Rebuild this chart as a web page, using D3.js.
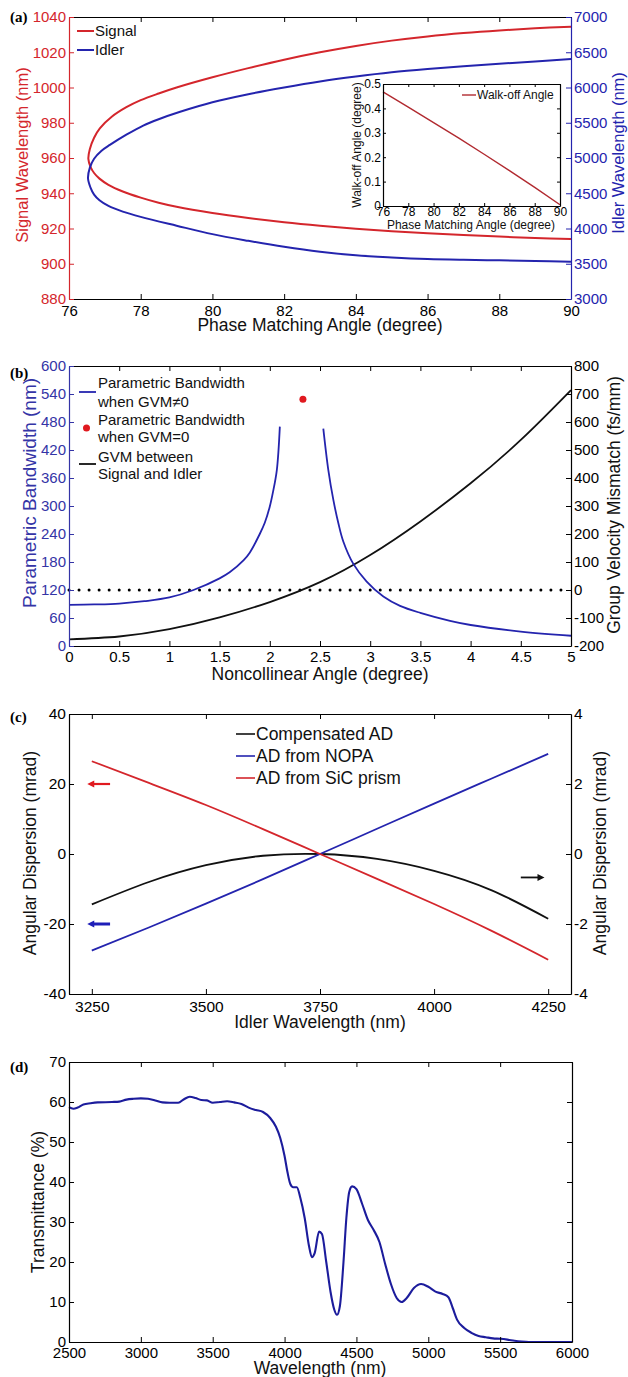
<!DOCTYPE html>
<html>
<head>
<meta charset="utf-8">
<script src="https://cdn.jsdelivr.net/npm/d3@7"></script>
<style>
body { margin:0; background:#fff; }
</style>
</head>
<body>
<svg id="fig" width="628" height="1377"></svg>
<script>
// ---------- (a) phase matching ----------
var sigAngle = [90,89,88,87,86,85,84,83,82,81,80,79,78.5,78,77.5,77.1,76.85,76.7,76.6,76.54,76.58,76.7,76.86,77.2,77.6,78,78.5,79,80,81,82,83,84,85,86,87,88,89,90]
var sigWave  = [914,914.6,915.4,916.3,917.3,918.5,919.9,921.6,923.6,926,928.8,932.3,934.6,937.5,941,944.8,948.3,951.5,955,959.5,965,971.5,976.8,983.5,988.8,992.8,996.6,1000,1005.8,1011,1015.8,1020,1023.6,1026.6,1029,1030.9,1032.4,1033.6,1034.5]
var idlAngle = [90,89,88,87,86,85,84,83,82,81,80,79,78,77.5,77.1,76.85,76.7,76.6,76.53,76.58,76.7,76.9,77.14,77.6,78.07,78.5,79.1,80,81,82,83,84,85,86,87,88,89,90]
var idlWave  = [3528,3538,3548,3556,3568,3590,3620,3670,3740,3825,3920,4040,4165,4240,4320,4400,4480,4580,4712,4860,4990,5100,5185,5330,5460,5550,5655,5790,5905,6000,6085,6155,6215,6262,6302,6337,6370,6405]
var walkAngle = [76,78,80,82,84,86,88,90]
var walkOff   = [0.468,0.405,0.342,0.278,0.212,0.145,0.076,0.005]
var aXTicks = [76,78,80,82,84,86,88,90]
var aLTicks = [880,900,920,940,960,980,1000,1020,1040]
var aRTicks = [3000,3500,4000,4500,5000,5500,6000,6500,7000]
var insetYTicks = [0,0.1,0.2,0.3,0.4,0.5]

// ---------- (b) bandwidth / GVM ----------
var bwAngle1 = [0,0.25,0.5,0.75,1.0,1.24,1.5,1.6,1.74,1.8,1.9,1.95,2.0,2.03,2.07,2.1]
var bw1      = [88,89,91,96,104,120,145,158,184,200,240,264,299,328,377,470]
var bwAngle2 = [2.533,2.583,2.633,2.683,2.732,2.832,2.965,3.131,3.297,3.499,3.795,4.001,4.499,5.0]
var bw2      = [466,377,313,263,224,176,138,106,86,71,54,45,31,22]
var gvmAngle = [0,0.5,1.0,1.5,2.0,2.5,3.0,3.5,4.0,4.5,5.0]
var gvm      = [-176,-166,-140,-98,-43,28,125,245,381,536,714]
var dotAngle = [2.33]
var dotBw    = [529]
var zeroLineX = [0,5]
var bXTicks = [0,0.5,1,1.5,2,2.5,3,3.5,4,4.5,5]
var bLTicks = [0,60,120,180,240,300,360,420,480,540,600]
var bRTicks = [-200,-100,0,100,200,300,400,500,600,700,800]

// ---------- (c) angular dispersion ----------
var cWave   = [3250,3375,3500,3625,3750,3875,4000,4125,4250]
var adSic   = [26.5,20.3,14.0,7.1,0,-7.1,-14.3,-21.9,-30.2]
var adNopa  = [-27.6,-21.0,-14.2,-7.2,0,7.2,14.4,21.5,28.6]
var adComp  = [-1.44,-0.8,-0.32,-0.05,0,-0.14,-0.48,-1.03,-1.85]
var cXTicks = [3250,3500,3750,4000,4250]
var cLTicks = [-40,-20,0,20,40]
var cRTicks = [-4,-2,0,2,4]
var arrowRed  = {from:3290, to:3240, y:20}
var arrowBlue = {from:3290, to:3240, y:-20}
var arrowBlack = {from:4190, to:4242, y:-0.67}

// ---------- (d) transmittance ----------
var tWave = [2500,2530,2560,2600,2650,2700,2800,2850,2900,2950,3000,3050,3100,3150,3200,3260,3300,3340,3380,3420,3460,3500,3550,3600,3650,3700,3750,3800,3850,3900,3940,3970,4000,4020,4040,4060,4085,4110,4140,4170,4190,4210,4240,4260,4290,4320,4345,4365,4385,4410,4430,4450,4470,4500,4540,4580,4620,4660,4700,4740,4780,4815,4850,4900,4950,5000,5050,5100,5140,5170,5200,5250,5300,5350,5400,5450,5500,5550,5600,5650,5700,6000]
var trans = [58.7,58.3,58.6,59.4,59.7,59.9,60.0,60.1,60.6,60.8,60.9,60.8,60.4,59.9,59.8,59.8,60.7,61.3,61.0,60.5,60.4,59.8,60.0,60.2,59.9,59.5,58.6,58.0,57.5,56.0,53.8,51.0,46.5,42.5,39.5,38.7,38.7,36,31,24,21.2,22.3,27.6,27,20,12.5,8.2,6.8,9,20,31,37.5,38.9,38.2,34.5,30.5,28,25,19.5,14.5,11,10,11,13.5,14.5,13.8,12.6,12,11.2,8.5,5.6,3.5,2.3,1.5,1.2,0.9,0.8,0.6,0.3,0.1,0,0]
var dXTicks = [2500,3000,3500,4000,4500,5000,5500,6000]
var dLTicks = [0,10,20,30,40,50,60,70]

var FONT = "'Liberation Sans', Arial, Helvetica, sans-serif"
var RED = "#d4262c"
var BLUE = "#2424ae"
var BLUE2 = "#3434a6"

var svg = d3.select("#fig")

var fmt = function(d) { return String(d) }
var noLabel = function() { return "" }

var styleAxis = function(sel, color, fs)
{
    sel.attr("font-family", FONT).attr("font-size", fs)
    sel.select(".domain").attr("stroke", color).attr("stroke-width", 1.2)
    sel.selectAll(".tick line").attr("stroke", color).attr("stroke-width", 1)
    sel.selectAll(".tick text").attr("fill", color)
}

var drawBox = function(c)
{
    var x0 = c.x.range()[0], x1 = c.x.range()[1]
    var top = c.yl.range()[1], bottom = c.yl.range()[0]
    var g = svg.append("g")

    var b = g.append("g").attr("transform", "translate(0," + bottom + ")")
    .call(d3.axisBottom(c.x).tickValues(c.xt).tickFormat(fmt).tickSize(-c.tick).tickSizeOuter(0).tickPadding(c.padX))
    styleAxis(b, "#000", c.fs)

    var t = g.append("g").attr("transform", "translate(0," + top + ")")
    .call(d3.axisTop(c.x).tickValues(c.xt).tickFormat(noLabel).tickSize(-c.tick).tickSizeOuter(0))
    styleAxis(t, "#000", c.fs)

    var l = g.append("g").attr("transform", "translate(" + x0 + ",0)")
    .call(d3.axisLeft(c.yl).tickValues(c.lt).tickFormat(fmt).tickSize(-c.tick).tickSizeOuter(0).tickPadding(c.padY))
    styleAxis(l, c.lc, c.fs)

    var r = g.append("g").attr("transform", "translate(" + x1 + ",0)")
    .call(d3.axisRight(c.yr).tickValues(c.rt).tickFormat(c.rlab ? fmt : noLabel).tickSize(-c.tick).tickSizeOuter(0).tickPadding(c.padY))
    styleAxis(r, c.rc, c.fs)
}

var drawLine = function(xs, ys, xscale, yscale, color, width, curve)
{
    var pts = d3.zip(xs, ys)
    svg.append("path")
    .datum(pts)
    .attr("fill", "none")
    .attr("stroke", color)
    .attr("stroke-width", width)
    .attr("stroke-linejoin", "round")
    .attr("d", d3.line()
        .x(function(p) { return xscale(p[0]) })
        .y(function(p) { return yscale(p[1]) })
        .curve(curve || d3.curveMonotoneX))
}

var addText = function(txt, x, y, opt)
{
    opt = opt || {}
    var t = svg.append("text")
    .attr("font-family", opt.family || FONT)
    .attr("font-size", opt.size || 17.5)
    .attr("fill", opt.color || "#111")
    .attr("text-anchor", opt.anchor || "start")
    .attr("font-weight", opt.weight || "normal")
    .text(txt)
    if (opt.rotate)
    {
        t.attr("transform", "translate(" + x + "," + y + ") rotate(-90)").attr("dy", "0.35em")
    }
    else
    {
        t.attr("x", x).attr("y", y)
        if (opt.middle) t.attr("dy", "0.35em")
    }
    return t
}

var panelLabel = function(txt, y)
{
    addText(txt, 10, y, {family: "'Liberation Serif', 'Times New Roman', serif", weight: "bold", size: 15, color: "#000"})
}

var smooth = d3.curveCatmullRom.alpha(0.5)

// ================= panel (a) =================
var xA = d3.scaleLinear().domain([76, 90]).range([69, 571])
var ySig = d3.scaleLinear().domain([880, 1040]).range([299, 17])
var yIdl = d3.scaleLinear().domain([3000, 7000]).range([299, 17])

drawLine(sigAngle, sigWave, xA, ySig, RED, 2, smooth)
drawLine(idlAngle, idlWave, xA, yIdl, BLUE, 2, smooth)
drawBox({x: xA, yl: ySig, yr: yIdl, xt: aXTicks, lt: aLTicks, rt: aRTicks, lc: RED, rc: BLUE, rlab: true, fs: 15, tick: 5, padX: 6, padY: 3})

// inset
var xIn = d3.scaleLinear().domain([76, 90]).range([383, 560])
var yIn = d3.scaleLinear().domain([0, 0.5]).range([206, 84])
svg.append("rect").attr("x", 383).attr("y", 84).attr("width", 177).attr("height", 122).attr("fill", "#fff")
drawLine(walkAngle, walkOff, xIn, yIn, "#b12a30", 1.4, d3.curveLinear)
drawBox({x: xIn, yl: yIn, yr: yIn, xt: aXTicks, lt: insetYTicks, rt: insetYTicks, lc: "#000", rc: "#000", rlab: false, fs: 12, tick: 3, padX: 1.5, padY: 2})
addText("Phase Matching Angle (degree)", 471, 229, {size: 12, anchor: "middle"})
addText("Walk-off Angle (degree)", 357, 145, {size: 12, anchor: "middle", rotate: true})
svg.append("line").attr("x1", 462).attr("x2", 476).attr("y1", 95).attr("y2", 95).attr("stroke", "#b12a30").attr("stroke-width", 1.4)
addText("Walk-off Angle", 477, 95, {size: 12, middle: true})

// legend + labels
svg.append("line").attr("x1", 77).attr("x2", 94).attr("y1", 31).attr("y2", 31).attr("stroke", RED).attr("stroke-width", 2)
addText("Signal", 95, 31, {size: 15, middle: true})
svg.append("line").attr("x1", 77).attr("x2", 94).attr("y1", 50).attr("y2", 50).attr("stroke", BLUE).attr("stroke-width", 2)
addText("Idler", 95, 50, {size: 15, middle: true})
addText("Phase Matching Angle (degree)", 320, 331, {anchor: "middle"})
addText("Signal Wavelength (nm)", 22, 155, {anchor: "middle", rotate: true, color: RED, size: 16.5})
addText("Idler Wavelength (nm)", 618, 153, {anchor: "middle", rotate: true, color: BLUE, size: 16.5})
panelLabel("(a)", 22)

// ================= panel (b) =================
var xB = d3.scaleLinear().domain([0, 5]).range([69, 571])
var yBw = d3.scaleLinear().domain([0, 600]).range([646, 366])
var yGvm = d3.scaleLinear().domain([-200, 800]).range([646, 366])

svg.append("path")
.datum(zeroLineX)
.attr("fill", "none")
.attr("stroke", "#000")
.attr("stroke-width", 3)
.attr("stroke-linecap", "round")
.attr("stroke-dasharray", "0,10.04")
.attr("d", d3.line().x(function(d) { return xB(d) }).y(function() { return yGvm(0) }))

drawLine(gvmAngle, gvm, xB, yGvm, "#111", 1.8, d3.curveNatural)
drawLine(bwAngle1, bw1, xB, yBw, BLUE, 1.8, smooth)
drawLine(bwAngle2, bw2, xB, yBw, BLUE, 1.8, smooth)
svg.selectAll(".gvm0dot")
.data(d3.zip(dotAngle, dotBw))
.enter()
.append("circle")
.attr("cx", function(p) { return xB(p[0]) })
.attr("cy", function(p) { return yBw(p[1]) })
.attr("r", 3.5)
.attr("fill", "#e0191f")
drawBox({x: xB, yl: yBw, yr: yGvm, xt: bXTicks, lt: bLTicks, rt: bRTicks, lc: BLUE2, rc: "#000", rlab: true, fs: 15, tick: 5, padX: 5.5, padY: 3})

svg.append("line").attr("x1", 79).attr("x2", 96).attr("y1", 392).attr("y2", 392).attr("stroke", BLUE).attr("stroke-width", 1.8)
addText("Parametric Bandwidth", 98, 383, {size: 15, middle: true})
addText("when GVM\u22600", 98, 402, {size: 15, middle: true})
svg.append("circle").attr("cx", 86.5).attr("cy", 428).attr("r", 3.5).attr("fill", "#e0191f")
addText("Parametric Bandwidth", 98, 420, {size: 15, middle: true})
addText("when GVM=0", 98, 437, {size: 15, middle: true})
svg.append("line").attr("x1", 79).attr("x2", 96).attr("y1", 464).attr("y2", 464).attr("stroke", "#111").attr("stroke-width", 1.8)
addText("GVM between", 98, 457, {size: 15, middle: true})
addText("Signal and Idler", 98, 474, {size: 15, middle: true})

addText("Noncollinear Angle (degree)", 320, 680, {anchor: "middle"})
addText("Parametric Bandwidth (nm)", 29, 493, {anchor: "middle", rotate: true, color: BLUE2, size: 19})
addText("Group Velocity Mismatch (fs/mm)", 614, 505, {anchor: "middle", rotate: true})
panelLabel("(b)", 378)

// ================= panel (c) =================
var xC = d3.scaleLinear().domain([3200, 4300]).range([69, 571])
var yCL = d3.scaleLinear().domain([-40, 40]).range([994, 714])
var yCR = d3.scaleLinear().domain([-4, 4]).range([994, 714])

drawLine(cWave, adComp, xC, yCR, "#111", 1.8, d3.curveNatural)
drawLine(cWave, adNopa, xC, yCL, BLUE, 1.8, d3.curveNatural)
drawLine(cWave, adSic, xC, yCL, RED, 1.8, d3.curveNatural)
drawBox({x: xC, yl: yCL, yr: yCR, xt: cXTicks, lt: cLTicks, rt: cRTicks, lc: "#000", rc: "#000", rlab: true, fs: 15.5, tick: 5, padX: 7, padY: 3})

var drawArrow = function(a, yscale, color, width)
{
    var x1 = xC(a.from), x2 = xC(a.to), y = yscale(a.y)
    var dir = x2 > x1 ? 1 : -1
    svg.append("line").attr("x1", x1).attr("x2", x2 - dir * 5).attr("y1", y).attr("y2", y)
    .attr("stroke", color).attr("stroke-width", width)
    svg.append("path")
    .attr("d", "M" + x2 + "," + y + "L" + (x2 - dir * 7) + "," + (y - 3.5) + "L" + (x2 - dir * 7) + "," + (y + 3.5) + "Z")
    .attr("fill", color)
}
drawArrow(arrowRed, yCL, "#e0191f", 2.2)
drawArrow(arrowBlue, yCL, "#1e1eb8", 3)
drawArrow(arrowBlack, yCR, "#111", 1.8)

var cLegend = [["Compensated AD", "#111", 734], ["AD from NOPA", BLUE, 756], ["AD from SiC prism", RED, 778]]
cLegend.forEach(function(e)
{
    svg.append("line").attr("x1", 236).attr("x2", 255).attr("y1", e[2]).attr("y2", e[2]).attr("stroke", e[1]).attr("stroke-width", 1.6)
    addText(e[0], 256, e[2], {size: 17.5, middle: true})
})

addText("Idler Wavelength (nm)", 320, 1028, {anchor: "middle"})
addText("Angular Dispersion (mrad)", 30, 853, {anchor: "middle", rotate: true})
addText("Angular Dispersion (mrad)", 600, 853, {anchor: "middle", rotate: true})
panelLabel("(c)", 722)

// ================= panel (d) =================
var xD = d3.scaleLinear().domain([2500, 6000]).range([69, 572])
var yD = d3.scaleLinear().domain([0, 70]).range([1342, 1062])

drawLine(tWave, trans, xD, yD, "#1c1c9c", 2.1)
drawBox({x: xD, yl: yD, yr: yD, xt: dXTicks, lt: dLTicks, rt: dLTicks, lc: "#000", rc: "#000", rlab: false, fs: 15, tick: 5, padX: 5, padY: 3})

addText("Wavelength (nm)", 320, 1374, {anchor: "middle"})
addText("Transmittance (%)", 38, 1202, {anchor: "middle", rotate: true})
panelLabel("(d)", 1072)
</script>
</body>
</html>
